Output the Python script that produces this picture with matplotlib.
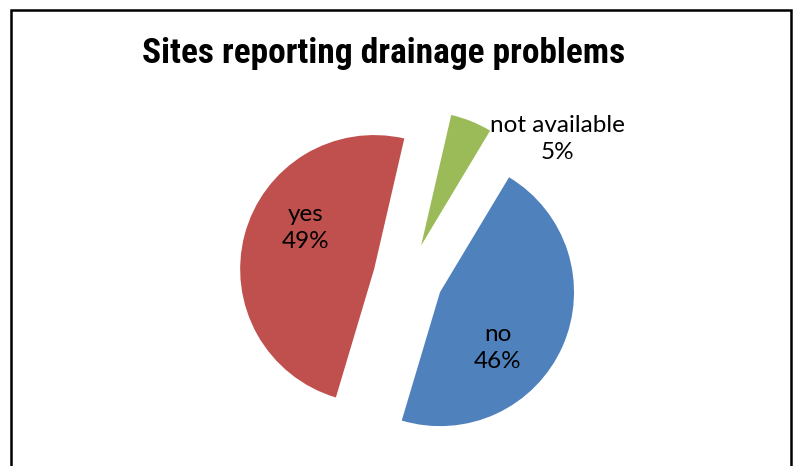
import matplotlib.pyplot as plt
from matplotlib.patches import Rectangle

# data
labels = ['not available', 'no', 'yes']
shares = [5, 46, 49]
colors = ['#9BBB59', '#4F81BD', '#C0504D']
title = 'Sites reporting drainage problems'

W, H = 799, 466
fig = plt.figure(figsize=(W / 100, H / 100), dpi=100)
ax = fig.add_axes([0, 0, 1, 1])
ax.set_xlim(0, W)
ax.set_ylim(0, H)
ax.set_aspect('equal')
ax.axis('off')

# chart frame (bottom edge is cut off in the original)
ax.add_patch(Rectangle((11, -20), 780, 476, fill=False,
                       edgecolor='black', lw=1.8))

R = 134
# explode is in data units here (pixels)
wedges, _ = ax.pie(shares, colors=colors, startangle=77, counterclock=False,
                   explode=[35] * 3, center=(408, 188), radius=R,
                   wedgeprops=dict(linewidth=0))
ax.set_xlim(0, W)
ax.set_ylim(0, H)

lab_font = dict(family=['Lato', 'DejaVu Sans'], fontsize=17.5, ha='center',
                va='center', linespacing=1.3)
pos = [(557, 327), (498, 118), (306, 238)]
for (x, y), name, s in zip(pos, labels, shares):
    ax.text(x, y, '{}\n{}%'.format(name, s), **lab_font)

ax.text(384, 412, title, family=['Liberation Sans Narrow', 'Roboto Condensed', 'Roboto'],
        fontweight='bold', fontsize=25.5, ha='center', va='center')

fig.savefig('out.png', dpi=100)
